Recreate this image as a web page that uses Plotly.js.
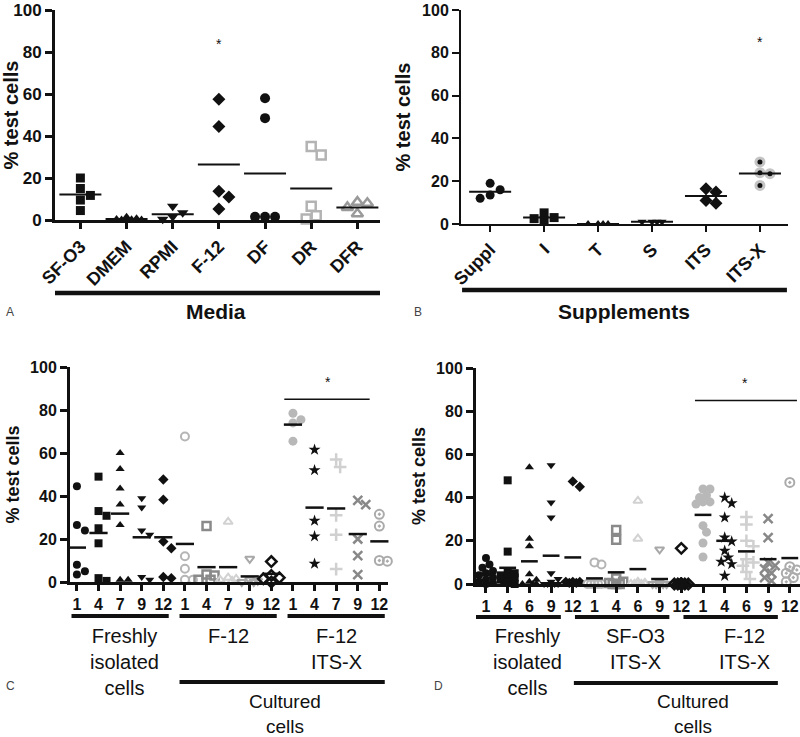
<!DOCTYPE html>
<html><head><meta charset="utf-8">
<script src="https://cdn.plot.ly/plotly-3.0.1.min.js"></script>
<style>body{margin:0;background:#fff}#plot{width:800px;height:737px}</style>
</head><body><div id="plot"></div>
<script>
// ---------- DATA ----------
const mediaCats = ['SF-O3','DMEM','RPMI','F-12','DF','DR','DFR'];
const mediaVals = [
  [20, 15, 11.7, 9.5, 4.5],
  [1.5, 0.8, 0.5, 0.3, 0.2, 0.2],
  [6.5, 3.5, 1.5, 0.3],
  [57.5, 44.5, 13.7, 11, 5.2],
  [58, 48.5, 1.5, 1.5, 1.5],
  [35, 31, 6.5, 2, 0.5],
  [8.5, 8, 6, 3]
];
const mediaMeans = [12.2, 0.5, 2.7, 26.4, 22.2, 15, 6];

const suppCats = ['Suppl','I','T','S','ITS','ITS-X'];
const suppVals = [
  [19, 16, 13.5, 12],
  [5.2, 3, 2.5, 1.5],
  [0, 0, 0, 0],
  [1, 1, 1, 1],
  [16.5, 15, 11, 9.7],
  [29, 24, 23.5, 18]
];
const suppMeans = [15.1, 3, 0, 1, 13.1, 23.6];

const dayTicks = ['1','4','7','9','12'];
const cVals = [
  [44.5, 26.5, 24, 8, 5, 3.5, 1.5],
  [49, 33, 30.8, 25, 18, 1.8, 0.5],
  [60, 52.5, 43.5, 36, 26.5, 1, 1],
  [39, 34.6, 24, 22, 2.3, 1],
  [47.7, 38.3, 18.8, 15.7, 2.3, 1.8],
  [67.7, 12, 6.2, 1, 1],
  [26, 3.5, 3, 1, 1],
  [28, 2, 1.5, 1, 0.5],
  [10.8, 1, 0.5, 0, 0],
  [9.5, 3, 2, 1.5, 0],
  [78.5, 75.5, 74, 65.5],
  [61.5, 52, 28.5, 21.2, 8.5],
  [57, 53.5, 31, 22, 6],
  [38, 36, 20, 12.3, 3.4],
  [31.5, 26, 10, 9.7]
];
const cMeans = [16, 22.8, 31.8, 20.8, 20.8, 17.7, 6.9, 6.9, 2.6, 3.8, 73.2, 34.6, 34.2, 22.3, 18.9];
const cGroups = ['Freshly<br>isolated<br>cells', 'F-12', 'F-12<br>ITS-X'];

const dayTicksD = ['1','4','6','9','12'];
const dVals = [
  [12, 9, 7.5, 6, 5, 4, 3, 2, 1, 0.5, 0],
  [48, 15, 6, 5, 4, 3, 3, 2, 1, 1, 0.5, 0],
  [54, 21, 17.5, 4.5, 2, 1, 0, 0, 0],
  [55, 37.7, 30.8, 5, 2.3, 1, 0, 0, 0, 0],
  [47.5, 45, 1, 1, 1, 0.5, 0.5, 0.5],
  [10, 9, 0, 0, 0, 0, 0],
  [25, 20.5, 2.5, 1, 0.5, 0, 0, 0],
  [38.5, 21, 1, 0.5, 0, 0, 0, 0, 0],
  [16, 0.5, 0, 0, 0, 0, 0],
  [16.5, 0, 0, 0, 0, 0, 0, 0, 0, 0, 0, 0],
  [44, 44, 41, 40, 38, 38, 37, 27, 24, 19, 12.5],
  [40, 37.4, 30.8, 21.5, 19.7, 15.4, 12.3, 10.3, 9.2, 3.8],
  [31, 27.5, 20, 17.5, 11.5, 10, 8.5, 5.5, 2.3],
  [30.3, 21.5, 10, 8.5, 7, 5, 3, 1.5],
  [47, 8, 6.5, 5, 3, 1]
];
const dMeans = [4.2, 7.5, 10.5, 13.1, 12.3, 2.6, 5.4, 6.9, 2.3, 1.5, 32, 20, 15.1, 11.5, 12];
const dGroups = ['Freshly<br>isolated<br>cells', 'SF-O3<br>ITS-X', 'F-12<br>ITS-X'];

const sigLevel = 85;   // significance bar level (%)

// ---------- HELPERS ----------
const W = 800, H = 737;
const FONT = 'Liberation Sans, Arial, sans-serif';
const px = x => x / W;
const py = y => 1 - y / H;

function swarm(vals, d, pxPerY, maxOff) {
  const placed = [], offs = [];
  const cands = [0];
  for (let k = 1; k <= 14; k++) { cands.push(k * d * 0.5, -k * d * 0.5); }
  vals.forEach(v => {
    const y = v * pxPerY;
    let best = 0, bestScore = -Infinity;
    for (const c of cands) {
      if (Math.abs(c) > maxOff) continue;
      let minD = Infinity;
      for (const p of placed) { const dd = Math.hypot(p[0] - c, p[1] - y); if (dd < minD) minD = dd; }
      if (minD >= d) { best = c; break; }
      if (minD > bestScore) { bestScore = minD; best = c; }
    }
    placed.push([best, y]); offs.push(best);
  });
  return offs;
}

const BLACK = '#111';
const traces = [];
function addGroup(xa, ya, catX, vals, mean, style, geom) {
  const offs = swarm(vals, geom.d, geom.pyu, geom.maxOff);
  traces.push({
    type: 'scatter', mode: 'markers', xaxis: xa, yaxis: ya, cliponaxis: false,
    x: offs.map(o => catX + o / geom.pxu), y: vals, marker: Object.assign({}, style), hoverinfo: 'y'
  });
  traces.push({
    type: 'scatter', mode: 'markers', xaxis: xa, yaxis: ya, cliponaxis: false,
    x: [catX], y: [mean],
    marker: {symbol: 'line-ew', size: geom.meanW, line: {width: geom.meanT, color: BLACK}}, hoverinfo: 'y'
  });
}
function filled(sym, size, color) { return {symbol: sym, size: size, color: color || BLACK, line: {width: 0}}; }
function open(sym, size, color, lw) { return {symbol: sym, size: size, color: color, line: {width: lw, color: color}}; }

// Panel A
const stylesA = [
  filled('square', 9), filled('triangle-up', 8), filled('triangle-down', 10), filled('diamond', 10),
  filled('circle', 10), open('square-open', 9, '#b3b3b3', 2.5), open('triangle-up-open', 10, '#9a9a9a', 2.5)
];
const gA = {pxu: 46.2, pyu: 2.12, d: 10, maxOff: 17, meanW: 30, meanT: 2};
mediaVals.forEach((v, i) => addGroup('x', 'y', i, v, mediaMeans[i], stylesA[i], gA));

// Panel B
const stylesB = [
  filled('circle', 9), filled('square', 9), filled('triangle-up', 8), filled('triangle-down', 8),
  filled('diamond', 10), {symbol: 'circle', size: 8, color: BLACK, line: {width: 3, color: '#c4c4c4'}}
];
const gB = {pxu: 54, pyu: 2.16, d: 10, maxOff: 18, meanW: 30, meanT: 2};
suppVals.forEach((v, i) => addGroup('x2', 'y2', i, v, suppMeans[i], stylesB[i], gB));

// Panels C & D share marker styles
const stylesCD = [
  filled('circle', 8), filled('square', 8), filled('triangle-up', 8), filled('triangle-down', 8), filled('diamond', 8),
  open('circle-open', 8, '#b5b5b5', 2), open('square-open', 8, '#8a8a8a', 2.5), open('triangle-up-open', 8, '#d2d2d2', 2),
  open('triangle-down-open', 8, '#a8a8a8', 2), open('diamond-open', 8, BLACK, 2.5),
  filled('circle', 9, '#b8b8b8'), filled('star', 9), open('cross-thin-open', 9, '#d0d0d0', 2.5),
  open('x-thin-open', 9, '#888888', 2.5), open('circle-open-dot', 9, '#ababab', 2)
];
const gC = {pxu: 21.6, pyu: 2.16, d: 8, maxOff: 9, meanW: 13, meanT: 2.5};
cVals.forEach((v, i) => addGroup('x3', 'y3', i + 1, v, cMeans[i], stylesCD[i], gC));
const gD = {pxu: 21.7, pyu: 2.17, d: 7, maxOff: 10, meanW: 12, meanT: 2.5};
dVals.forEach((v, i) => addGroup('x4', 'y4', i + 1, v, dMeans[i], stylesCD[i], gD));

// ---------- LAYOUT ----------
function yAxis(top, bottom, tickSize, titleSize, lw) {
  return {
    domain: [py(bottom), py(top)], range: [0, 100], tickvals: [0, 20, 40, 60, 80, 100],
    showline: true, linewidth: lw, linecolor: BLACK, ticks: 'outside', ticklen: 7, tickwidth: lw, tickcolor: BLACK,
    tickfont: {family: FONT, size: tickSize, color: BLACK, weight: 'bold'}, showgrid: false, zeroline: false,
    ticklabeloverflow: 'allow',
    title: {text: '% test cells', font: {family: FONT, size: titleSize, color: BLACK, weight: 'bold'}, standoff: 6},
    fixedrange: true
  };
}
function xAxis(left, right, range, tickvals, ticktext, angle, size, lw, anchor) {
  return {
    domain: [px(left), px(right)], range: range, anchor: anchor, tickvals: tickvals, ticktext: ticktext,
    tickangle: angle, showline: true, linewidth: lw, linecolor: BLACK, ticks: 'outside', ticklen: 6,
    tickwidth: lw, tickcolor: BLACK, tickfont: {family: FONT, size: size, color: BLACK, weight: 'bold'},
    ticklabeloverflow: 'allow', showgrid: false, zeroline: false, fixedrange: true
  };
}
const idx = a => a.map((_, i) => i);
const dayVals = cVals.map((_, i) => i + 1);

const shapes = [], annotations = [];
function hbar(xref, x0, x1, y, w) {
  shapes.push({type: 'line', xref: xref, yref: 'paper', x0: x0, x1: x1, y0: py(y), y1: py(y), line: {color: BLACK, width: w}});
}
function txt(text, x, y, size, opts) {
  annotations.push(Object.assign({text: text, xref: 'paper', yref: 'paper', x: px(x), y: py(y), showarrow: false,
    font: {family: FONT, size: size, color: BLACK}, xanchor: 'center', yanchor: 'middle'}, opts || {}));
}
const letterFont = {family: FONT, size: 12, color: '#444'};
// Panel A / B decorations
hbar('x', -0.58, 6.49, 293, 4.5);
txt('<b>Media</b>', 216, 311, 21);
txt('A', 10, 312, 12, {font: letterFont});
hbar('x2', -0.52, 5.5, 290, 4.5);
txt('<b>Supplements</b>', 624, 311, 21);
txt('B', 418, 312, 12, {font: letterFont});
annotations.push({text: '*', xref: 'x', yref: 'y', x: 3, y: 84, showarrow: false, font: {family: FONT, size: 14, color: BLACK}});
annotations.push({text: '*', xref: 'x2', yref: 'y2', x: 5, y: 85, showarrow: false, font: {family: FONT, size: 14, color: BLACK}});

// Panel C decorations
[0, 1, 2].forEach(g => {
  hbar('x3', 5 * g + 1 - 0.25, 5 * g + 5 + 0.25, 616, 4);
  annotations.push({text: cGroups[g], xref: 'x3', yref: 'paper', x: 5 * g + 3 + (g === 0 ? 0.2 : 0), y: py(623),
    yanchor: 'top', showarrow: false, font: {family: FONT, size: 20, color: BLACK}});
});
hbar('x3', 5.75, 15.25, 682, 4);
txt('Cultured<br>cells', 285, 714, 19);
txt('C', 10, 686, 12, {font: letterFont});
shapes.push({type: 'line', xref: 'x3', yref: 'y3', x0: 10.6, x1: 14.55, y0: sigLevel, y1: sigLevel, line: {color: BLACK, width: 1.5}});
annotations.push({text: '*', xref: 'x3', yref: 'y3', x: 12.6, y: 93, showarrow: false, font: {family: FONT, size: 14, color: BLACK}});

// Panel D decorations
[0, 1, 2].forEach(g => {
  hbar('x4', 5 * g + 1 - 0.9, 5 * g + 5 - 0.55, 617, 4);
  annotations.push({text: dGroups[g], xref: 'x4', yref: 'paper', x: 5 * g + 3 - 0.1, y: py(623),
    yanchor: 'top', showarrow: false, font: {family: FONT, size: 20, color: BLACK}});
});
hbar('x4', 5.05, 14.45, 683, 4);
txt('Cultured<br>cells', 693, 714, 19);
txt('D', 438, 686, 12, {font: letterFont});
shapes.push({type: 'line', xref: 'x4', yref: 'y4', x0: 10.63, x1: 15.33, y0: sigLevel, y1: sigLevel, line: {color: BLACK, width: 1.5}});
annotations.push({text: '*', xref: 'x4', yref: 'y4', x: 12.95, y: 93, showarrow: false, font: {family: FONT, size: 14, color: BLACK}});

const layout = {
  width: W, height: H, margin: {l: 0, r: 0, t: 0, b: 0}, paper_bgcolor: '#fff', plot_bgcolor: 'rgba(0,0,0,0)',
  showlegend: false, font: {family: FONT, color: BLACK},
  xaxis: xAxis(55, 380, [-0.55, 6.49], idx(mediaCats), mediaCats, -45, 18, 3, 'y'),
  yaxis: yAxis(10, 220, 17, 20, 3),
  xaxis2: xAxis(461, 788, [-0.54, 5.52], idx(suppCats), suppCats, -45, 18, 2, 'y2'),
  yaxis2: Object.assign(yAxis(10, 224, 16, 20, 2), {anchor: 'x2'}),
  xaxis3: xAxis(70, 388, [0.68, 15.4], dayVals, [].concat(dayTicks, dayTicks, dayTicks), 0, 16, 3, 'y3'),
  yaxis3: Object.assign(yAxis(367, 582, 16, 18, 3), {anchor: 'x3'}),
  xaxis4: xAxis(476, 800, [0.54, 15.47], dayVals, [].concat(dayTicksD, dayTicksD, dayTicksD), 0, 16, 3, 'y4'),
  yaxis4: Object.assign(yAxis(368, 584, 16, 18, 3), {anchor: 'x4'}),
  shapes: shapes, annotations: annotations
};
layout.yaxis.anchor = 'x';
Plotly.newPlot('plot', traces, layout, {displayModeBar: false, staticPlot: true});
</script></body></html>
